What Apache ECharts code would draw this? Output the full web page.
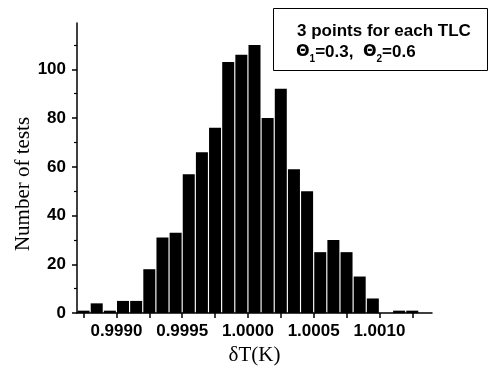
<!DOCTYPE html>
<html>
<head>
<meta charset="utf-8">
<script src="https://cdn.jsdelivr.net/npm/echarts@6/dist/echarts.min.js"></script>
<style>html,body{margin:0;padding:0;background:#fff;}#c{width:489px;height:371px;}</style>
</head>
<body>
<div id="c"></div>
<script>
// Bin centres of the histogram (δT in K)
var binCenters = [0.99875, 0.99885, 0.99895, 0.99905, 0.99915, 0.99925, 0.99935, 0.99945, 0.99955,
  0.99965, 0.99975, 0.99985, 0.99995, 1.00005, 1.00015, 1.00025, 1.00035, 1.00045, 1.00055,
  1.00065, 1.00075, 1.00085, 1.00095, 1.00105, 1.00115, 1.00125];
// Number of tests in each bin
var counts = [1, 4, 1, 5, 5, 18, 31, 33, 57, 66, 76, 103, 106, 110, 80, 92, 59, 50,
  25, 30, 25, 15, 6, 0, 1, 1];
// Tick labels
var xTickLabels = [0.9990, 0.9995, 1.0000, 1.0005, 1.0010];
var xTickValues = [0.99875, 0.9990, 0.99925, 0.9995, 0.99975, 1.0000, 1.00025, 1.0005, 1.00075, 1.0010, 1.00125];
var yTickLabels = [0, 20, 40, 60, 80, 100];
var yMinorTicks = [10, 30, 50, 70, 90, 110];
var xTitle = 'δT(K)';
var yTitle = 'Number of tests';

var data = binCenters.map(function (x, i) { return [x, counts[i]]; });
var labelFont = { fontFamily: 'Liberation Sans', fontWeight: 'bold', fontSize: 17, color: '#000' };

var chart = echarts.init(document.getElementById('c'), null, { renderer: 'canvas' });
chart.setOption({
  animation: false,
  backgroundColor: '#fff',
  grid: { left: 77, right: 57, top: 23, bottom: 54, containLabel: false },
  xAxis: [{
    type: 'value', min: 0.9987, max: 1.0014, position: 'bottom',
    axisLine: { show: true, onZero: false, lineStyle: { color: '#000', width: 1.5 } },
    axisTick: { show: true, inside: false, length: 5, lineStyle: { color: '#000', width: 1.5 }, customValues: xTickValues },
    axisLabel: Object.assign({ margin: 10, customValues: xTickLabels, formatter: function (v) { return v.toFixed(4); } }, labelFont),
    splitLine: { show: false },
    name: xTitle, nameLocation: 'middle', nameGap: 29,
    nameTextStyle: { fontFamily: 'Liberation Serif', fontSize: 21, color: '#000' }
  }],
  yAxis: [{
    type: 'value', min: 0, max: 119,
    axisLine: { show: true, onZero: false, lineStyle: { color: '#000', width: 1.5 } },
    axisTick: { show: true, inside: false, length: 5, lineStyle: { color: '#000', width: 1.5 }, customValues: yTickLabels },
    axisLabel: Object.assign({ margin: 11, customValues: yTickLabels }, labelFont),
    splitLine: { show: false }
  }, {
    type: 'value', min: 0, max: 119, position: 'left', offset: 0,
    axisLine: { show: false },
    axisTick: { show: true, inside: false, length: 3, lineStyle: { color: '#000', width: 1.2 }, customValues: yMinorTicks },
    axisLabel: { show: false },
    splitLine: { show: false }
  }],
  series: [{
    type: 'bar',
    data: data,
    barWidth: 12,
    itemStyle: { color: '#000' },
    xAxisIndex: 0, yAxisIndex: 0
  }],
  graphic: [
    {
      type: 'text', x: 23.5, y: 184, rotation: Math.PI / 2,
      style: { text: yTitle, fontFamily: 'Liberation Serif', fontSize: 21, fill: '#000', align: 'center', verticalAlign: 'middle' }
    },
    {
      type: 'rect', shape: { x: 273.5, y: 8.5, width: 214, height: 62 },
      style: { fill: '#fff', stroke: '#000', lineWidth: 1 }
    },
    {
      type: 'text', x: 297, y: 31,
      style: { text: '3 points for each TLC', fontFamily: 'Liberation Sans', fontWeight: 'bold', fontSize: 17, fill: '#000', align: 'left', verticalAlign: 'middle' }
    },
    {
      type: 'text', x: 296, y: 52,
      style: {
        text: '{t|Θ}{s|1}{a|=0.3,  }{t|Θ}{s|2}{a|=0.6}',
        align: 'left', verticalAlign: 'middle',
        rich: {
          t: { fontFamily: 'DejaVu Sans', fontWeight: 'bold', fontSize: 16, fill: '#000', lineHeight: 24, verticalAlign: 'middle' },
          a: { fontFamily: 'Liberation Sans', fontWeight: 'bold', fontSize: 17, fill: '#000', lineHeight: 24, verticalAlign: 'middle' },
          s: { fontFamily: 'Liberation Sans', fontWeight: 'bold', fontSize: 10, fill: '#000', lineHeight: 10, verticalAlign: 'bottom' }
        }
      }
    }
  ]
});
</script>
</body>
</html>
